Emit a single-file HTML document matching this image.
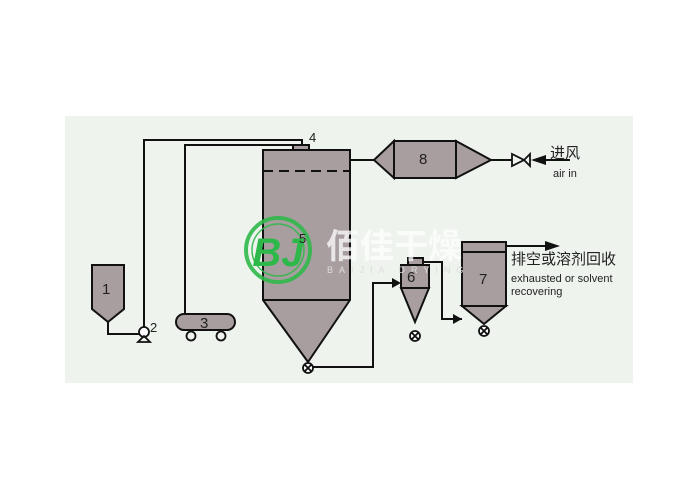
<!DOCTYPE html>
<html><head><meta charset="utf-8"><style>
html,body{margin:0;padding:0;background:#fff;}
svg{display:block}
</style></head><body>
<svg width="700" height="500" viewBox="0 0 700 500" xmlns="http://www.w3.org/2000/svg" font-family="Liberation Sans, Noto Sans CJK SC, sans-serif">
<rect x="65" y="116" width="568" height="267" fill="#eef3ee"/>
<g stroke="#111" stroke-width="2" fill="none">
<!-- feed lines -->
<polyline points="108,322 108,334 140,334"/>
<polyline points="144,328 144,140 302,140 302,145"/>
<polyline points="185,314 185,145 293,145"/>
<line x1="350" y1="160" x2="374" y2="160"/>
<line x1="491" y1="160" x2="512" y2="160"/>
<polyline points="313,367 373,367 373,283 392,283"/>
<polyline points="423,262 442,262 442,319 462,319"/>
<line x1="506" y1="246" x2="548" y2="246"/>
<line x1="570" y1="160" x2="545" y2="160"/>
</g>
<g stroke="#111" stroke-width="2" fill="#a89ea0">
<!-- chamber -->
<polygon points="263,150 350,150 350,300 308,362 263,300"/>
<line x1="263" y1="300" x2="350" y2="300"/>
<rect x="293" y="145" width="16" height="5"/>
<!-- hopper 1 -->
<polygon points="92,265 124,265 124,309 108,322 92,309"/>
<!-- compressor -->
<rect x="176" y="314" width="59" height="16" rx="8"/>
<!-- heater 8 -->
<polygon points="374,160 394,141 394,178"/>
<rect x="394" y="141" width="62" height="37"/>
<polygon points="456,141 491,160 456,178"/>
<!-- cyclone 6 -->
<rect x="408" y="258" width="15" height="7"/>
<rect x="401" y="265" width="28" height="23"/>
<polygon points="401,288 429,288 415,322"/>
<!-- collector 7 -->
<rect x="462" y="242" width="44" height="64"/>
<line x1="462" y1="252" x2="506" y2="252"/>
<polygon points="462,306 506,306 484,324"/>
</g>
<line x1="263" y1="171" x2="350" y2="171" stroke="#111" stroke-width="2" stroke-dasharray="10,6"/>
<g stroke="#111" stroke-width="1.8" fill="#fff">
<circle cx="308" cy="368" r="5"/><path d="M304.5,364.5l7,7M311.5,364.5l-7,7"/>
<circle cx="415" cy="336" r="5"/><path d="M411.5,332.5l7,7M418.5,332.5l-7,7"/>
<circle cx="484" cy="331" r="5"/><path d="M480.5,327.5l7,7M487.5,327.5l-7,7"/>
<circle cx="191" cy="336" r="4.5" fill="none"/><circle cx="221" cy="336" r="4.5" fill="none"/>
<circle cx="144" cy="332" r="5"/>
<polygon points="138,342 150,342 144,336" fill="none"/>
<polygon points="512,154 512,166 524,160 530,154 530,166 524,160" fill="none"/>
</g>
<g fill="#111">
<polygon points="392,278 401,283 392,288"/>
<polygon points="453,314 462,319 453,324"/>
<polygon points="545,241 560,246 545,251"/>
<polygon points="531,160 546,155 546,165"/>
</g>
<!-- watermark -->
<circle cx="278" cy="250" r="32" fill="none" stroke="#2fb84a" stroke-width="4" opacity="0.9"/>
<circle cx="278" cy="250" r="26" fill="none" stroke="#2fb84a" stroke-width="1.5" opacity="0.9"/>
<text x="278" y="266" font-size="40" font-weight="bold" font-style="italic" fill="#2fb84a" text-anchor="middle">BJ</text>
<text x="326" y="258" font-size="34" fill="#ffffff" opacity="0.75" font-weight="bold">佰佳干燥</text>
<text x="327" y="273" font-size="9" fill="#dddddd" letter-spacing="6">BAIJIA DRYING</text>
<g fill="#222" font-size="15">
<text x="102" y="294">1</text>
<text x="150" y="332" font-size="13">2</text>
<text x="200" y="328">3</text>
<text x="309" y="142" font-size="13">4</text>
<text x="299" y="243" font-size="13">5</text>
<text x="407" y="282">6</text>
<text x="479" y="284">7</text>
<text x="419" y="164">8</text>
<text x="550" y="158" font-size="15">进风</text>
<text x="553" y="177" font-size="11">air in</text>
<text x="511" y="264" font-size="15">排空或溶剂回收</text>
<text x="511" y="282" font-size="11">exhausted or solvent</text>
<text x="511" y="295" font-size="11">recovering</text>
</g>
</svg>
</body></html>
